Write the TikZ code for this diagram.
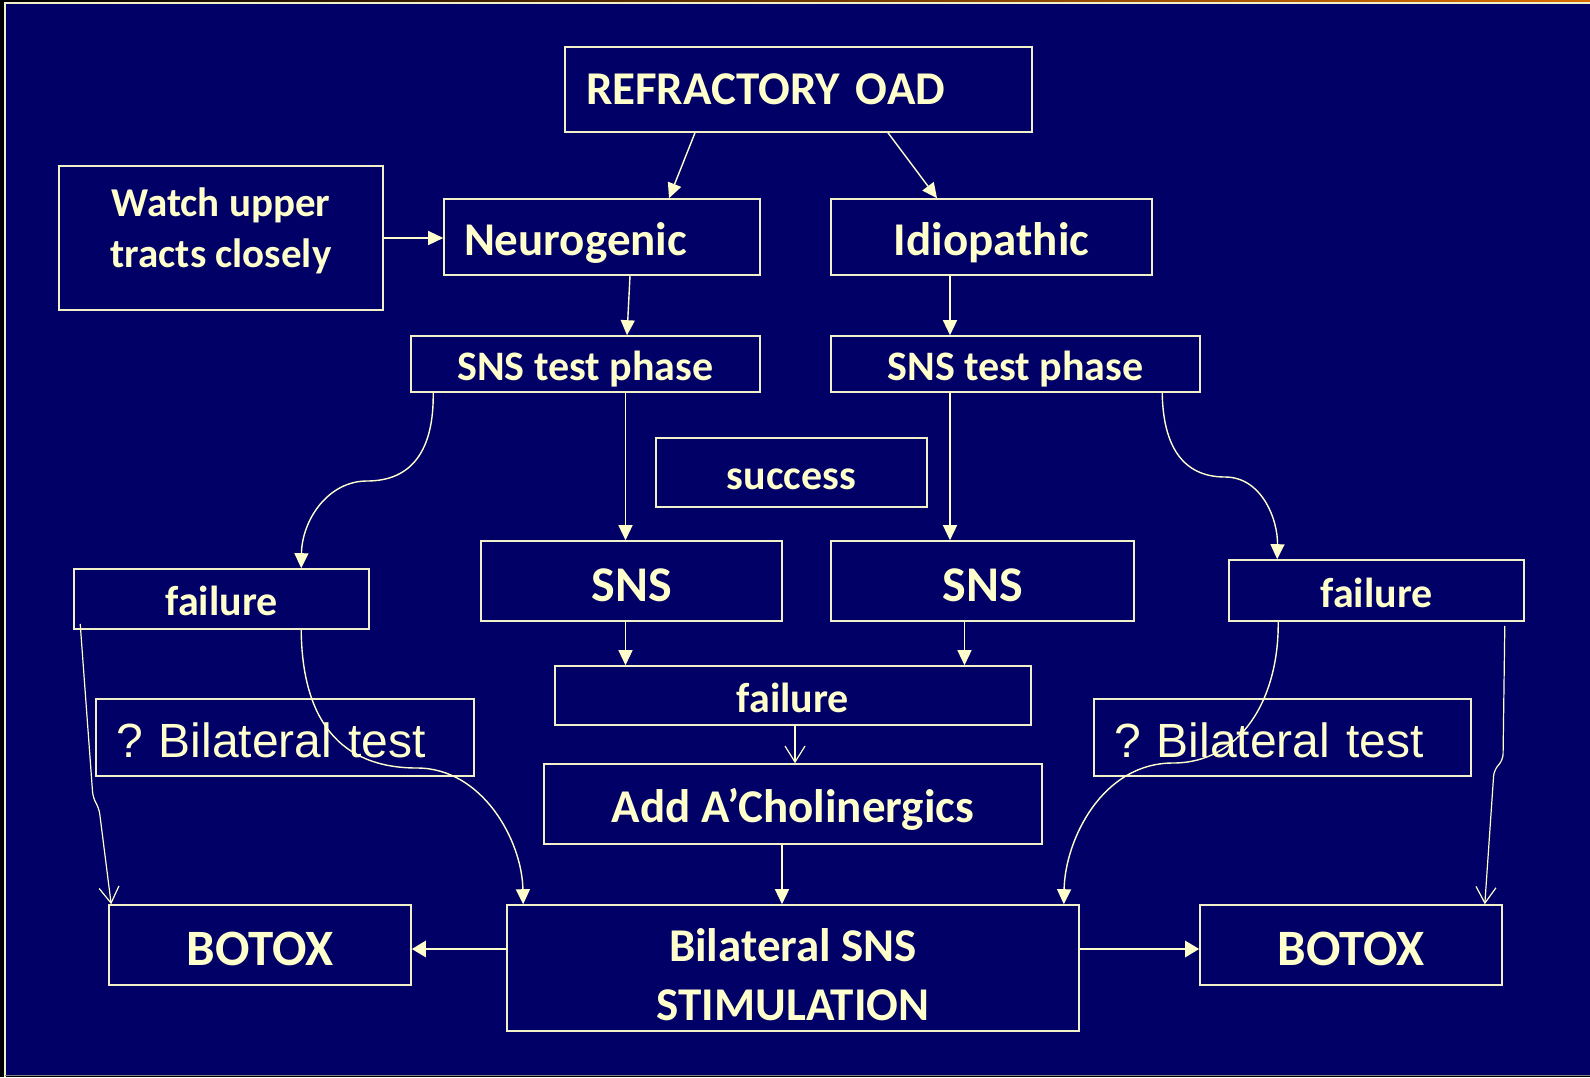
\documentclass[tikz,border=0pt]{standalone}
\usepackage{fontspec}
\setmainfont{Carlito}
\newfontfamily\arialfont{Liberation Sans}
\usepackage{tikz}
\usetikzlibrary{arrows.meta,positioning,calc}
\usepackage{xcolor}
\definecolor{slidebg}{HTML}{000066}
\definecolor{ink}{HTML}{FFFFCC}
\definecolor{rim}{HTML}{F2F0C8}
\frenchspacing

\begin{document}
\begin{tikzpicture}[
x=1pt, y=-1pt,
blk/.style={draw=rim, line width=1.6pt, text=ink, inner sep=0pt, align=center},
big/.style={font=\bfseries\fontsize{47}{56}\selectfont, text height=37.6pt, text depth=0pt},
small/.style={font=\bfseries\fontsize{42}{50}\selectfont, text height=33.6pt, text depth=0pt},
huge/.style={font=\bfseries\fontsize{#1}{60}\selectfont, text height=40.5pt, text depth=0pt},
quest/.style={font=\arialfont\fontsize{48}{56}\selectfont, text height=40.8pt, text depth=0pt, inner xsep=20pt, align=left},
arrow/.style={draw=ink, line width=1.4pt, -{Triangle[length=15pt, width=14pt]}},
varrow/.style={draw=ink, line width=1.2pt, -{Straight Barb[length=16pt, width=20pt]}},
barrow/.style={draw=ink, line width=2.6pt, -{Triangle[length=14pt, width=16pt]}}
]
% slide background
\useasboundingbox (0,0) rectangle (1590,1077);
\fill[black] (0,0) rectangle (1590,1077);
\shade[left color=black, right color=orange!85!black] (0,0) rectangle (1590,3);
\fill[slidebg] (5,3) rectangle (1590,1075);
\draw[rim, line width=1.5pt] (1590,3) -- (5,3) -- (5,1077);
\draw[gray, line width=1.2pt] (5,1075.5) -- (1590,1075.5);

% boxes
\node[blk, big, text height=30.3pt, minimum width=467, minimum height=85, inner xsep=21pt, text width=425, align=left] (oad) at (798.5,89.5) {REFRACTORY OAD};
\node[blk, minimum width=324, minimum height=144, text depth=20pt, font=\bfseries\fontsize{41}{51}\selectfont] (watch) at (221,238) {Watch upper\\tracts closely};
\node[blk, big, minimum width=316, minimum height=76, inner xsep=20pt, text width=276, align=left] (neuro) at (602,237) {Neurogenic};
\node[blk, big, minimum width=321, minimum height=76] (idio) at (991.5,237) {Idiopathic};
\node[blk, small, minimum width=349, minimum height=56] (testL) at (585.5,364) {SNS test phase};
\node[blk, small, minimum width=369, minimum height=56] (testR) at (1015.5,364) {SNS test phase};
\node[blk, small, minimum width=271, minimum height=69] (success) at (791.5,472.5) {success};
\node[blk, huge=50, minimum width=301, minimum height=80] (snsL) at (631.5,581) {SNS};
\node[blk, huge=50, minimum width=303, minimum height=80] (snsR) at (982.5,581) {SNS};
\node[blk, small, minimum width=295, minimum height=60] (failL) at (221.5,599) {failure};
\node[blk, small, minimum width=295, minimum height=61] (failR) at (1376.5,590.5) {failure};
\node[blk, small, minimum width=476, minimum height=59] (failM) at (793,695.5) {failure};
\node[blk, big, minimum width=498, minimum height=80] (add) at (793,804) {Add A’Cholinergics};
\node[blk, quest, minimum width=378, minimum height=77, text width=338] (qL) at (285,737.5) {? Bilateral test};
\node[blk, quest, minimum width=377, minimum height=77, text width=337] (qR) at (1282.5,737.5) {? Bilateral test};
\node[blk, huge=51, minimum width=302, minimum height=80] (botL) at (260,945) {BOTOX};
\node[blk, minimum width=572, minimum height=126, text height=104pt, text depth=0pt, font=\bfseries\fontsize{47}{59}\selectfont] (bss) at (793,968) {Bilateral SNS\\STIMULATION};
\node[blk, huge=51, minimum width=302, minimum height=80] (botR) at (1351,945) {BOTOX};

% connectors
\draw[arrow] ([xshift=-103.5pt]oad.south) -- ([xshift=67pt]neuro.north);
\draw[arrow] ([xshift=89.5pt]oad.south) -- ([xshift=-54.5pt]idio.north);
\draw[arrow] (watch.east) -- (watch.east -| neuro.west);
\draw[arrow] ([xshift=28pt]neuro.south) -- ([xshift=41.5pt]testL.north);
\draw[arrow] ([xshift=-41.5pt]idio.south) -- ([xshift=-65.5pt]testR.north);
\draw[arrow] ([xshift=40pt]testL.south) -- ([xshift=-6pt]snsL.north);
\draw[arrow] ([xshift=-65.5pt]testR.south) -- ([xshift=-32.5pt]snsR.north);
\draw[arrow] ([xshift=23pt]testL.south west) .. controls (434,450) and (412,481) .. (367,481)
  .. controls (328,481) and (302,520) .. ([xshift=228pt]failL.north west);
\draw[arrow] ([xshift=332pt]testR.south west) .. controls (1163,445) and (1182,477) .. (1225,477)
  .. controls (1262,477) and (1278,520) .. ([xshift=49pt]failR.north west);
\draw[arrow] ([xshift=-6pt]snsL.south) -- ([xshift=-6pt]snsL.south |- failM.north);
\draw[arrow] ([xshift=-18pt]snsR.south) -- ([xshift=-18pt]snsR.south |- failM.north);
\draw[varrow] ([xshift=2pt]failM.south) -- ([xshift=2pt]add.north);
\draw[arrow] ([xshift=-11pt]add.south) -- ([xshift=-11pt]bss.north);
\draw[arrow] ([xshift=228pt]failL.south west) .. controls (302,720) and (340,768) .. (417,768)
  .. controls (482,768) and (522,840) .. ([xshift=17pt]bss.north west);
\draw[arrow] ([xshift=50pt]failR.south west) .. controls (1279,700) and (1240,763) .. (1173,763)
  .. controls (1102,763) and (1065,840) .. ([xshift=-16pt]bss.north east);
\draw[varrow, rounded corners=6pt] ([xshift=7pt, yshift=6pt]failL.south west) -- (93,798) -- (99,808) -- ([xshift=3pt]botL.north west);
\draw[varrow, rounded corners=6pt] ([xshift=-20pt, yshift=-4pt]failR.south east) -- (1503,760) -- (1494,770) -- ([xshift=-18pt]botR.north east);
\draw[barrow] ([yshift=19pt]bss.west) -- ([yshift=19pt]bss.west -| botL.east);
\draw[barrow] ([yshift=19pt]bss.east) -- ([yshift=19pt]bss.east -| botR.west);
\end{tikzpicture}
\end{document}
